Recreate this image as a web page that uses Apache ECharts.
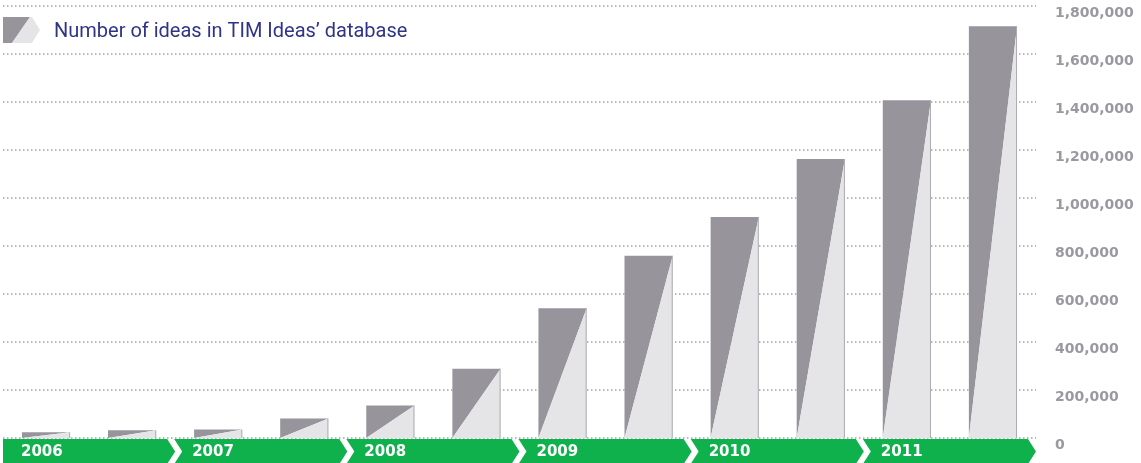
<!DOCTYPE html>
<html>
<head>
<meta charset="utf-8">
<script src="https://cdn.jsdelivr.net/npm/echarts@6/dist/echarts.min.js"></script>
<style>
html, body { margin: 0; padding: 0; background: #fff; }
#main { width: 1141px; height: 463px; }
</style>
</head>
<body>
<div id="main"></div>
<script>
// half-year categories, two per year
var halfYears = ['2006 H1', '2006 H2', '2007 H1', '2007 H2', '2008 H1', '2008 H2',
                 '2009 H1', '2009 H2', '2010 H1', '2010 H2', '2011 H1', '2011 H2'];
var ideas = [24000, 32000, 35000, 81000, 135000, 289000,
             541000, 759000, 921000, 1162000, 1407000, 1716000];
var years = ['2006', '2007', '2008', '2009', '2010', '2011'];
var yMin = 0, yMax = 1800000, yStep = 200000;

var dark = '#97949c';
var light = '#e5e5e7';
var green = '#0eb14c';

var chart = echarts.init(document.getElementById('main'));

function renderBar(params, api) {
    var base = api.coord([api.value(0), 0]);
    var top = api.coord([api.value(0), api.value(1)]);
    var w = api.size([1, 0])[0] * 0.56;
    var x0 = base[0] - w / 2, x1 = base[0] + w / 2;
    return {
        type: 'group',
        children: [
            { type: 'polygon', shape: { points: [[x0, top[1]], [x1, top[1]], [x0, base[1]]] }, style: { fill: dark } },
            { type: 'polygon', shape: { points: [[x1, top[1]], [x1, base[1]], [x0, base[1]]] }, style: { fill: light } },
            { type: 'line', shape: { x1: x1 - 0.5, y1: top[1], x2: x1 - 0.5, y2: base[1] }, style: { stroke: '#aeacb1', lineWidth: 1 } }
        ]
    };
}

// green year band with chevron ends, one arrow per year (two half-year slots)
function renderBand(params, api) {
    var step = api.size([1, 0])[0];
    var first = api.value(0);
    var b0 = api.coord([first, 0])[0] - step / 2;
    var b1 = b0 + step * 2;
    var y0 = api.coord([first, 0])[1] + 1;
    var y1 = 464;
    var mid = (y0 + y1) / 2;
    var pts, left;
    if (params.dataIndex === 0) {
        left = b0;
        pts = [[b0, y0], [b1 - 8, y0], [b1, mid], [b1 - 8, y1], [b0, y1]];
    } else {
        left = b0 - 1;
        pts = [[b0 - 1, y0], [b1 - 8, y0], [b1, mid], [b1 - 8, y1], [b0 - 1, y1], [b0 + 7, mid]];
    }
    return {
        type: 'group',
        children: [
            { type: 'polygon', shape: { points: pts }, style: { fill: green } },
            {
                type: 'text',
                style: {
                    text: years[params.dataIndex],
                    x: left + 18, y: mid + 1,
                    fill: '#fff',
                    font: 'bold 15px "DejaVu Sans"',
                    verticalAlign: 'middle'
                }
            }
        ]
    };
}

var option = {
    animation: false,
    title: {
        text: 'Number of ideas in TIM Ideas\u2019 database',
        left: 49,
        top: 17,
        textStyle: {
            color: '#2f3488',
            fontFamily: 'Roboto',
            fontWeight: 'normal',
            fontSize: 20
        }
    },
    graphic: [
        { type: 'polygon', shape: { points: [[3, 17], [30, 17], [12, 43], [3, 43]] }, style: { fill: dark } },
        { type: 'polygon', shape: { points: [[30, 17], [32, 17], [40, 30], [32, 43], [12, 43]] }, style: { fill: light } }
    ],
    grid: {
        left: 3,
        right: 105,
        top: 6,
        bottom: 25
    },
    xAxis: {
        type: 'category',
        data: halfYears,
        axisLine: { show: false },
        axisTick: { show: false },
        axisLabel: { show: false }
    },
    yAxis: {
        type: 'value',
        position: 'right',
        min: yMin,
        max: yMax,
        interval: yStep,
        axisLine: { show: false },
        axisTick: { show: false },
        axisLabel: {
            margin: 19,
            color: '#9b98a0',
            fontFamily: 'DejaVu Sans',
            fontWeight: 'bold',
            fontSize: 14,
            verticalAlign: 'top',
            formatter: function (v) { return v.toLocaleString('en-US'); }
        },
        splitLine: {
            lineStyle: {
                color: '#a3a1a7',
                width: 1.5,
                type: [1.5, 2.5]
            }
        }
    },
    series: [
        {
            name: 'Number of ideas',
            type: 'custom',
            renderItem: renderBar,
            data: ideas.map(function (v, i) { return [i, v]; }),
            z: 3
        },
        {
            name: 'Years',
            type: 'custom',
            renderItem: renderBand,
            clip: false,
            data: years.map(function (y, i) { return [i * 2, 0]; }),
            z: 4
        }
    ]
};
chart.setOption(option);
</script>
</body>
</html>
